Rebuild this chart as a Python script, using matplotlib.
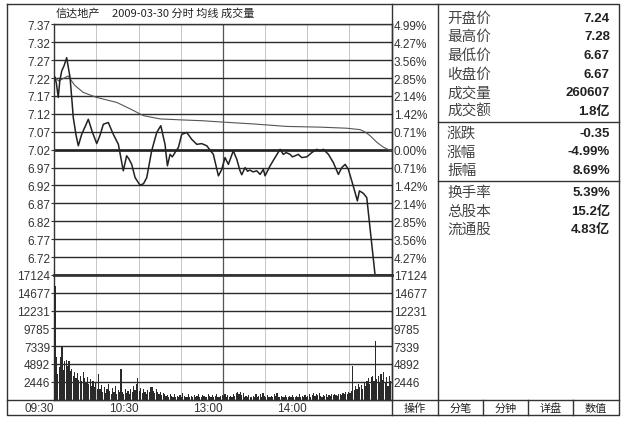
import matplotlib.pyplot as plt

W, H = 640, 427
CJK = ['Noto Sans CJK SC', 'DejaVu Sans']
NUM = ['Liberation Sans', 'Noto Sans CJK SC', 'DejaVu Sans']
INK = '#333333'

title_name = "信达地产"
title_rest = "2009-03-30 分时 均线 成交量"

prev_close = 7.02
price_ticks = [7.37, 7.32, 7.27, 7.22, 7.17, 7.12, 7.07, 7.02, 6.97, 6.92, 6.87, 6.82, 6.77, 6.72]
price_labels = ["7.37", "7.32", "7.27", "7.22", "7.17", "7.12", "7.07", "7.02",
                "6.97", "6.92", "6.87", "6.82", "6.77", "6.72"]
pct_labels = ["4.99%", "4.27%", "3.56%", "2.85%", "2.14%", "1.42%", "0.71%", "0.00%",
              "0.71%", "1.42%", "2.14%", "2.85%", "3.56%", "4.27%"]
vol_ticks = [2446, 4892, 7339, 9785, 12231, 14677, 17124]
time_ticks = [0, 60, 120, 180]
time_labels = ["09:30", "10:30", "13:00", "14:00"]

# price line, read at (minute, price)
price_min = [0.5, 1.5, 2.8, 4.0, 5.3, 7.0, 8.8, 11.2, 12.5, 13.5, 15.5, 17.1, 19.5, 22.0, 24.2,
             27.0, 30.2, 32.5, 34.9, 38.4, 42.0, 45.6, 49.1, 51.5, 53.0, 55.1, 57.5, 61.0,
             63.5, 65.8, 69.3, 72.9, 75.8, 78.8, 80.5, 82.4, 84.0, 85.9, 88.3, 90.7, 94.3,
             97.8, 101.4, 104.9, 108.5, 113.2, 116.8, 119.2, 121.5, 123.9, 127.4, 129.9,
             132.2, 133.4, 135.8, 137.5, 139.3, 141.5, 144.1, 146.5, 148.8, 150.0, 153.6,
             157.1, 160.7, 163.0, 165.0, 167.8, 169.5, 171.4, 173.7, 176.1, 179.7, 183.3,
             186.8, 189.2, 191.5, 195.1, 198.6, 202.2, 204.6, 207.0, 209.3, 211.7, 214.1,
             215.7, 217.2, 220.0, 222.4, 228.3, 239.5]
price_val = [7.222, 7.205, 7.166, 7.215, 7.240, 7.255, 7.277, 7.222, 7.160, 7.110, 7.060, 7.031,
             7.063, 7.085, 7.105, 7.070, 7.037, 7.060, 7.091, 7.096, 7.063, 7.035, 6.961, 7.003,
             6.995, 6.979, 6.942, 6.921, 6.925, 6.942, 7.017, 7.068, 7.087, 7.035, 6.975, 7.007,
             7.000, 7.012, 7.026, 7.063, 7.068, 7.049, 7.035, 7.037, 7.031, 7.007, 6.947, 6.965,
             6.998, 6.979, 7.017, 6.993, 6.961, 6.950, 6.970, 6.960, 6.963, 6.958, 6.961, 6.951,
             6.965, 6.947, 6.975, 6.998, 7.021, 7.007, 7.012, 7.007, 7.000, 7.003, 7.007, 6.998,
             7.000, 7.012, 7.021, 7.017, 7.021, 7.007, 6.984, 6.951, 6.970, 6.979, 6.965, 6.933,
             6.900, 6.877, 6.905, 6.898, 6.886, 6.670, 6.670]

# average price line
avg_min = [0.5, 3.0, 6.0, 9.8, 14.5, 20.6, 30.2, 44.5, 54.0, 63.5, 75.3, 91.9, 105.0, 120.4,
           141.5, 165.5, 189.2, 208.2, 217.7, 221.0, 224.8, 229.5, 234.2, 239.7]
avg_val = [7.222, 7.212, 7.218, 7.226, 7.200, 7.180, 7.166, 7.152, 7.134, 7.115, 7.106, 7.103,
           7.101, 7.097, 7.092, 7.085, 7.083, 7.080, 7.076, 7.070, 7.059, 7.041, 7.027, 7.017]

# per-minute volume
volume = [
    15600, 5900, 3500, 4500, 5800, 7200, 4000, 5300, 5400, 4600,
    5300, 3900, 4200, 3300, 3800, 3000, 3600, 2700, 3300, 2500,
    3800, 2900, 2400, 3100, 2200, 2800, 1900, 2600, 1700, 2300,
    1500, 3560, 1400, 2000, 1100, 1700, 900, 1500, 2100, 1200,
    800, 1600, 1000, 1900, 700, 1300, 1000, 4250, 1100, 800,
    1500, 900, 1200, 700, 1400, 1000, 1800, 1300, 2100, 2970,
    1200, 1600, 900, 1400, 1100, 700, 1300, 1000, 1700, 1700,
    1200, 900, 1500, 1100, 800, 1000, 600, 900, 700, 500,
    600, 400, 700, 500, 300, 800, 400, 500, 300, 600,
    400, 900, 500, 300, 400, 700, 300, 500, 400, 600,
    300, 500, 800, 400, 300, 600, 500, 300, 400, 700,
    500, 300, 600, 400, 500, 800, 400, 300, 500, 600,
    500, 700, 400, 600, 300, 500, 400, 700, 500, 900,
    1100, 800, 1000, 600, 900, 400, 500, 300, 600, 400,
    300, 500, 400, 700, 300, 500, 800, 400, 900, 500,
    300, 600, 400, 300, 500, 400, 800, 500, 900, 400,
    300, 500, 400, 300, 600, 400, 300, 500, 400, 600,
    300, 400, 500, 300, 700, 400, 500, 300, 600, 400,
    500, 700, 400, 600, 900, 500, 800, 600, 900, 500,
    400, 600, 500, 700, 400, 600, 500, 800, 600, 700,
    600, 500, 800, 700, 600, 900, 700, 1000, 800, 1100,
    900, 1200, 4600, 1300, 1900, 1500, 2200, 1700, 2000, 1400,
    2400, 1800, 2600, 2900, 2200, 3100, 3300, 2600, 8100, 2800,
    3200, 2400, 3500, 2700, 3800, 2300, 3100, 1900, 3300, 2600,
]

info_labels = ["开盘价", "最高价", "最低价", "收盘价", "成交量", "成交额",
               "涨跌", "涨幅", "振幅",
               "换手率", "总股本", "流通股"]
info_values = ["7.24", "7.28", "6.67", "6.67", "260607", "1.8亿",
               "-0.35", "-4.99%", "8.69%",
               "5.39%", "15.2亿", "4.83亿"]
info_groups = [6, 3, 3]
tab_labels = ["操作", "分笔", "分钟", "详盘", "数值"]


def box(x0, y0, x1, y1):
    return [x0 / W, 1 - y1 / H, (x1 - x0) / W, (y1 - y0) / H]


fig = plt.figure(figsize=(W / 100, H / 100), dpi=100)
fig.patch.set_facecolor('white')

PL, PR = 54.3, 391.5
ax_p = fig.add_axes(box(PL, 25.4, PR, 276))
ax_v = fig.add_axes(box(PL, 276, PR, 400.5))

for ax in (ax_p, ax_v):
    ax.set_xlim(0, 240)
    for s in ax.spines.values():
        s.set_color(INK)
        s.set_linewidth(1.0)
    for m in range(30, 240, 30):
        if m == 120:
            ax.axvline(m, color='#555555', lw=0.9, zorder=1)
        else:
            ax.axvline(m, color='#bdbdbd', lw=0.6, zorder=1)

# price panel
ax_p.set_ylim(6.67, 7.37)
ax_p.set_xticks([])
ax_p.set_yticks(price_ticks, price_labels)
ax_p.yaxis.grid(True, color='#2a2a2a', lw=1.0, zorder=1)
ax_p.axhline(prev_close, color='#222222', lw=1.9, zorder=2)
ax_p.spines['bottom'].set_linewidth(1.9)
ax_p.plot(avg_min, avg_val, color='#555555', lw=0.8, zorder=3)
ax_p.plot(price_min, price_val, color='#222222', lw=1.1, zorder=4)
ax_p.tick_params(axis='y', length=2, width=0.8, color=INK, pad=1, labelsize=8.5, labelcolor=INK)
for t in ax_p.get_yticklabels():
    t.set_family(NUM)

ax_pr = ax_p.twinx()
ax_pr.set_ylim(6.67, 7.37)
ax_pr.set_yticks(price_ticks, pct_labels)
ax_pr.tick_params(axis='y', length=0, pad=1.5, labelsize=8.5, labelcolor=INK)
for t in ax_pr.get_yticklabels():
    t.set_family(NUM)
for s in ax_pr.spines.values():
    s.set_visible(False)

# volume panel
ax_v.set_ylim(0, vol_ticks[-1])
ax_v.bar([i + 0.5 for i in range(len(volume))], volume, width=0.85, color='#2a2a2a', zorder=3)
ax_v.set_yticks(vol_ticks, [str(v) for v in vol_ticks])
ax_v.yaxis.grid(True, color='#2a2a2a', lw=1.0, zorder=1)
ax_v.spines['top'].set_linewidth(1.9)
ax_v.set_xticks(time_ticks, time_labels)
ax_v.tick_params(axis='x', length=0, pad=1.5, labelsize=8.5, labelcolor=INK)
for t in ax_v.get_xticklabels():
    t.set_family(NUM)
    t.set_ha('right')
ax_v.tick_params(axis='y', length=2, width=0.8, color=INK, pad=1, labelsize=8.5, labelcolor=INK)
for t in ax_v.get_yticklabels():
    t.set_family(NUM)

ax_vr = ax_v.twinx()
ax_vr.set_ylim(0, vol_ticks[-1])
ax_vr.set_yticks(vol_ticks, [str(v) for v in vol_ticks])
ax_vr.tick_params(axis='y', length=0, pad=1.5, labelsize=8.5, labelcolor=INK)
for t in ax_vr.get_yticklabels():
    t.set_family(NUM)
for s in ax_vr.spines.values():
    s.set_visible(False)

# frame, side panel and tab row
ov = fig.add_axes([0, 0, 1, 1])
ov.set_xlim(0, W)
ov.set_ylim(H, 0)
ov.axis('off')
ov.patch.set_alpha(0)

L, R, T, B = 7, 619, 5, 416
TAB_TOP = 400.5
SIDE = 438
ov.plot([L, R, R, L, L], [T, T, B, B, T], color=INK, lw=1.0)
ov.plot([PR, PR], [T, B], color=INK, lw=1.0)
ov.plot([SIDE, SIDE], [T, B], color=INK, lw=1.0)
ov.plot([L, R], [TAB_TOP, TAB_TOP], color=INK, lw=1.0)

ov.text(PL + 1, 14, title_name, family=CJK, fontsize=8, color='#222222', va='center', ha='left')
ov.text(112, 14, title_rest, family=CJK, fontsize=8, color='#222222', va='center', ha='left')

row_y = 18.5
step = 18.7
idx = 0
for g, n in enumerate(info_groups):
    for _ in range(n):
        y = row_y + step * idx + 3 * g
        ov.text(447, y, info_labels[idx], family=CJK, fontsize=10.5, color='#444444',
                va='center', ha='left')
        ov.text(610, y, info_values[idx], family=NUM, fontsize=9.5, fontweight='bold',
                color='#222222', va='center', ha='right')
        idx += 1
    if g < len(info_groups) - 1:
        sep = row_y + step * (idx - 0.5) + 3 * g + 1.5
        ov.plot([SIDE, R], [sep, sep], color=INK, lw=1.0)

tab_edges = [PR, SIDE, 483, 528, 573, R]
for i, lab in enumerate(tab_labels):
    x0, x1 = tab_edges[i], tab_edges[i + 1]
    if i > 1:
        ov.plot([x0, x0], [TAB_TOP, B], color=INK, lw=1.0)
    ov.text((x0 + x1) / 2, 408.5, lab, family=CJK, fontsize=8, color='#222222',
            va='center', ha='center')

fig.savefig('out.png', dpi=100, facecolor='white')
